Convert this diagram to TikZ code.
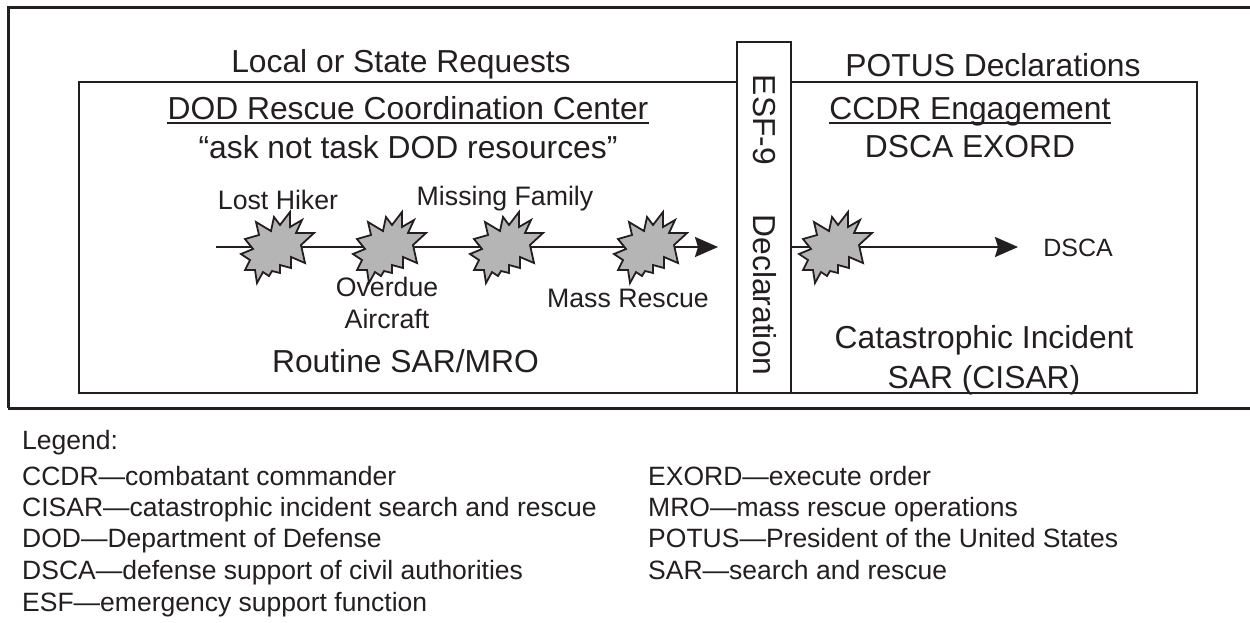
\documentclass[tikz,border=0pt]{standalone}
\usepackage{fontspec}
\setmainfont{Liberation Sans}
\usetikzlibrary{arrows.meta}
\definecolor{ink}{HTML}{231F20}
\definecolor{burst}{HTML}{B5B5B5}
\newcommand{\burstat}[2]{%
  \draw[burstline,shift={(#1,#2)}] (14,-35) -- (14,-20) -- (26,-27) -- (20,-14) -- (38,-14) -- (25,-2) -- (29,16) -- (15,10) -- (15,21) -- (4,18) -- (4,26) -- (-4,24) -- (-7,29) -- (-13,25) -- (-19,36) -- (-21,23) -- (-31,23) -- (-26,13) -- (-35,7) -- (-23,2) -- (-31,-8) -- (-17,-12) -- (-20,-25) -- (-5,-16) -- (-2,-30) -- (4,-22) -- cycle;}
\tikzset{
  x=1pt,y=-1pt,
  rule/.style={line width=3pt,draw=ink},
  boxline/.style={line width=2.4pt,draw=ink},
  uline/.style={line width=1.8pt,draw=ink},
  burstline/.style={line width=1.8pt,draw=ink,fill=burst,line join=miter},
  flow/.style={line width=2.4pt,draw=ink,-{Stealth[inset=3pt,length=23pt,width=20pt]}},
  big/.style={inner sep=0pt,anchor=base,text=ink,font=\fontsize{31.8}{31.8}\selectfont},
  mid/.style={inner sep=0pt,anchor=base,text=ink,font=\fontsize{26.7}{26.7}\selectfont},
  legend/.style={inner sep=0pt,anchor=base west,text=ink,font=\fontsize{26.5}{26.5}\selectfont},
}
\begin{document}
\begin{tikzpicture}
\useasboundingbox (0,0) rectangle (1250,622);
\fill[white] (0,0) rectangle (1250,622);
\draw[rule] (1250,7) coordinate (tr) -- (8,7) coordinate (tl) -- (8,408) coordinate (bl);
\draw[rule] (bl) -- (1250,408) coordinate (br);
\draw[boxline] (79,82) rectangle (1197,393);
\draw[boxline,fill=white] (737,42) rectangle (791,393);
\coordinate (a1) at (216,247);
\coordinate (a2) at (718,247);
\coordinate (b1) at (791,247);
\coordinate (b2) at (1018,247);
\draw[flow] (a1) -- (a2);
\draw[flow] (b1) -- (b2);
\burstat{276}{247}
\burstat{388}{247}
\burstat{505}{247}
\burstat{649}{247}
\burstat{834}{247}
\node[big] (req) at (401,72) {Local or State Requests};
\node[big] (pot) at (993,76) {POTUS Declarations};
\node[big] (rcc) at (408,119.5) {DOD Rescue Coordination Center};
\draw[uline] ([yshift=-3.8pt]rcc.base west) -- ([yshift=-3.8pt]rcc.base east);
\node[big] (ask) at (408,158) {“ask not task DOD resources”};
\node[big] (ccd) at (970,119) {CCDR Engagement};
\draw[uline] ([yshift=-3.8pt]ccd.base west) -- ([yshift=-3.8pt]ccd.base east);
\node[big] (exo) at (970,157) {DSCA EXORD};
\node[mid] (hik) at (278,209) {Lost Hiker};
\node[mid] (fam) at (505,205) {Missing Family};
\node[mid] (ovr) at (387,296) {Overdue};
\node[mid] (air) at (387,328) {Aircraft};
\node[mid] (mas) at (628,307) {Mass Rescue};
\node[inner sep=0pt,anchor=base,text=ink,font=\fontsize{25}{25}\selectfont] (dsc) at (1078,256) {DSCA};
\node[big] (rou) at (405.5,372) {Routine SAR/MRO};
\node[big] (cat) at (984,348) {Catastrophic Incident};
\node[big] (cis) at (984,388) {SAR (CISAR)};
\node[big,rotate=-90] (esf) at (753,120) {ESF-9};
\node[big,rotate=-90] (dec) at (753,295) {Declaration};
\node[legend] (l0) at (22,449) {Legend:};
\node[legend] (l1) at (22,485) {CCDR—combatant commander};
\node[legend] (l2) at (22,516) {CISAR—catastrophic incident search and rescue};
\node[legend] (l3) at (22,547) {DOD—Department of Defense};
\node[legend] (l4) at (22,579) {DSCA—defense support of civil authorities};
\node[legend] (l5) at (22,611) {ESF—emergency support function};
\node[legend] (r1) at (648,485) {EXORD—execute order};
\node[legend] (r2) at (648,516) {MRO—mass rescue operations};
\node[legend] (r3) at (648,547) {POTUS—President of the United States};
\node[legend] (r4) at (648,579) {SAR—search and rescue};
\end{tikzpicture}
\end{document}
